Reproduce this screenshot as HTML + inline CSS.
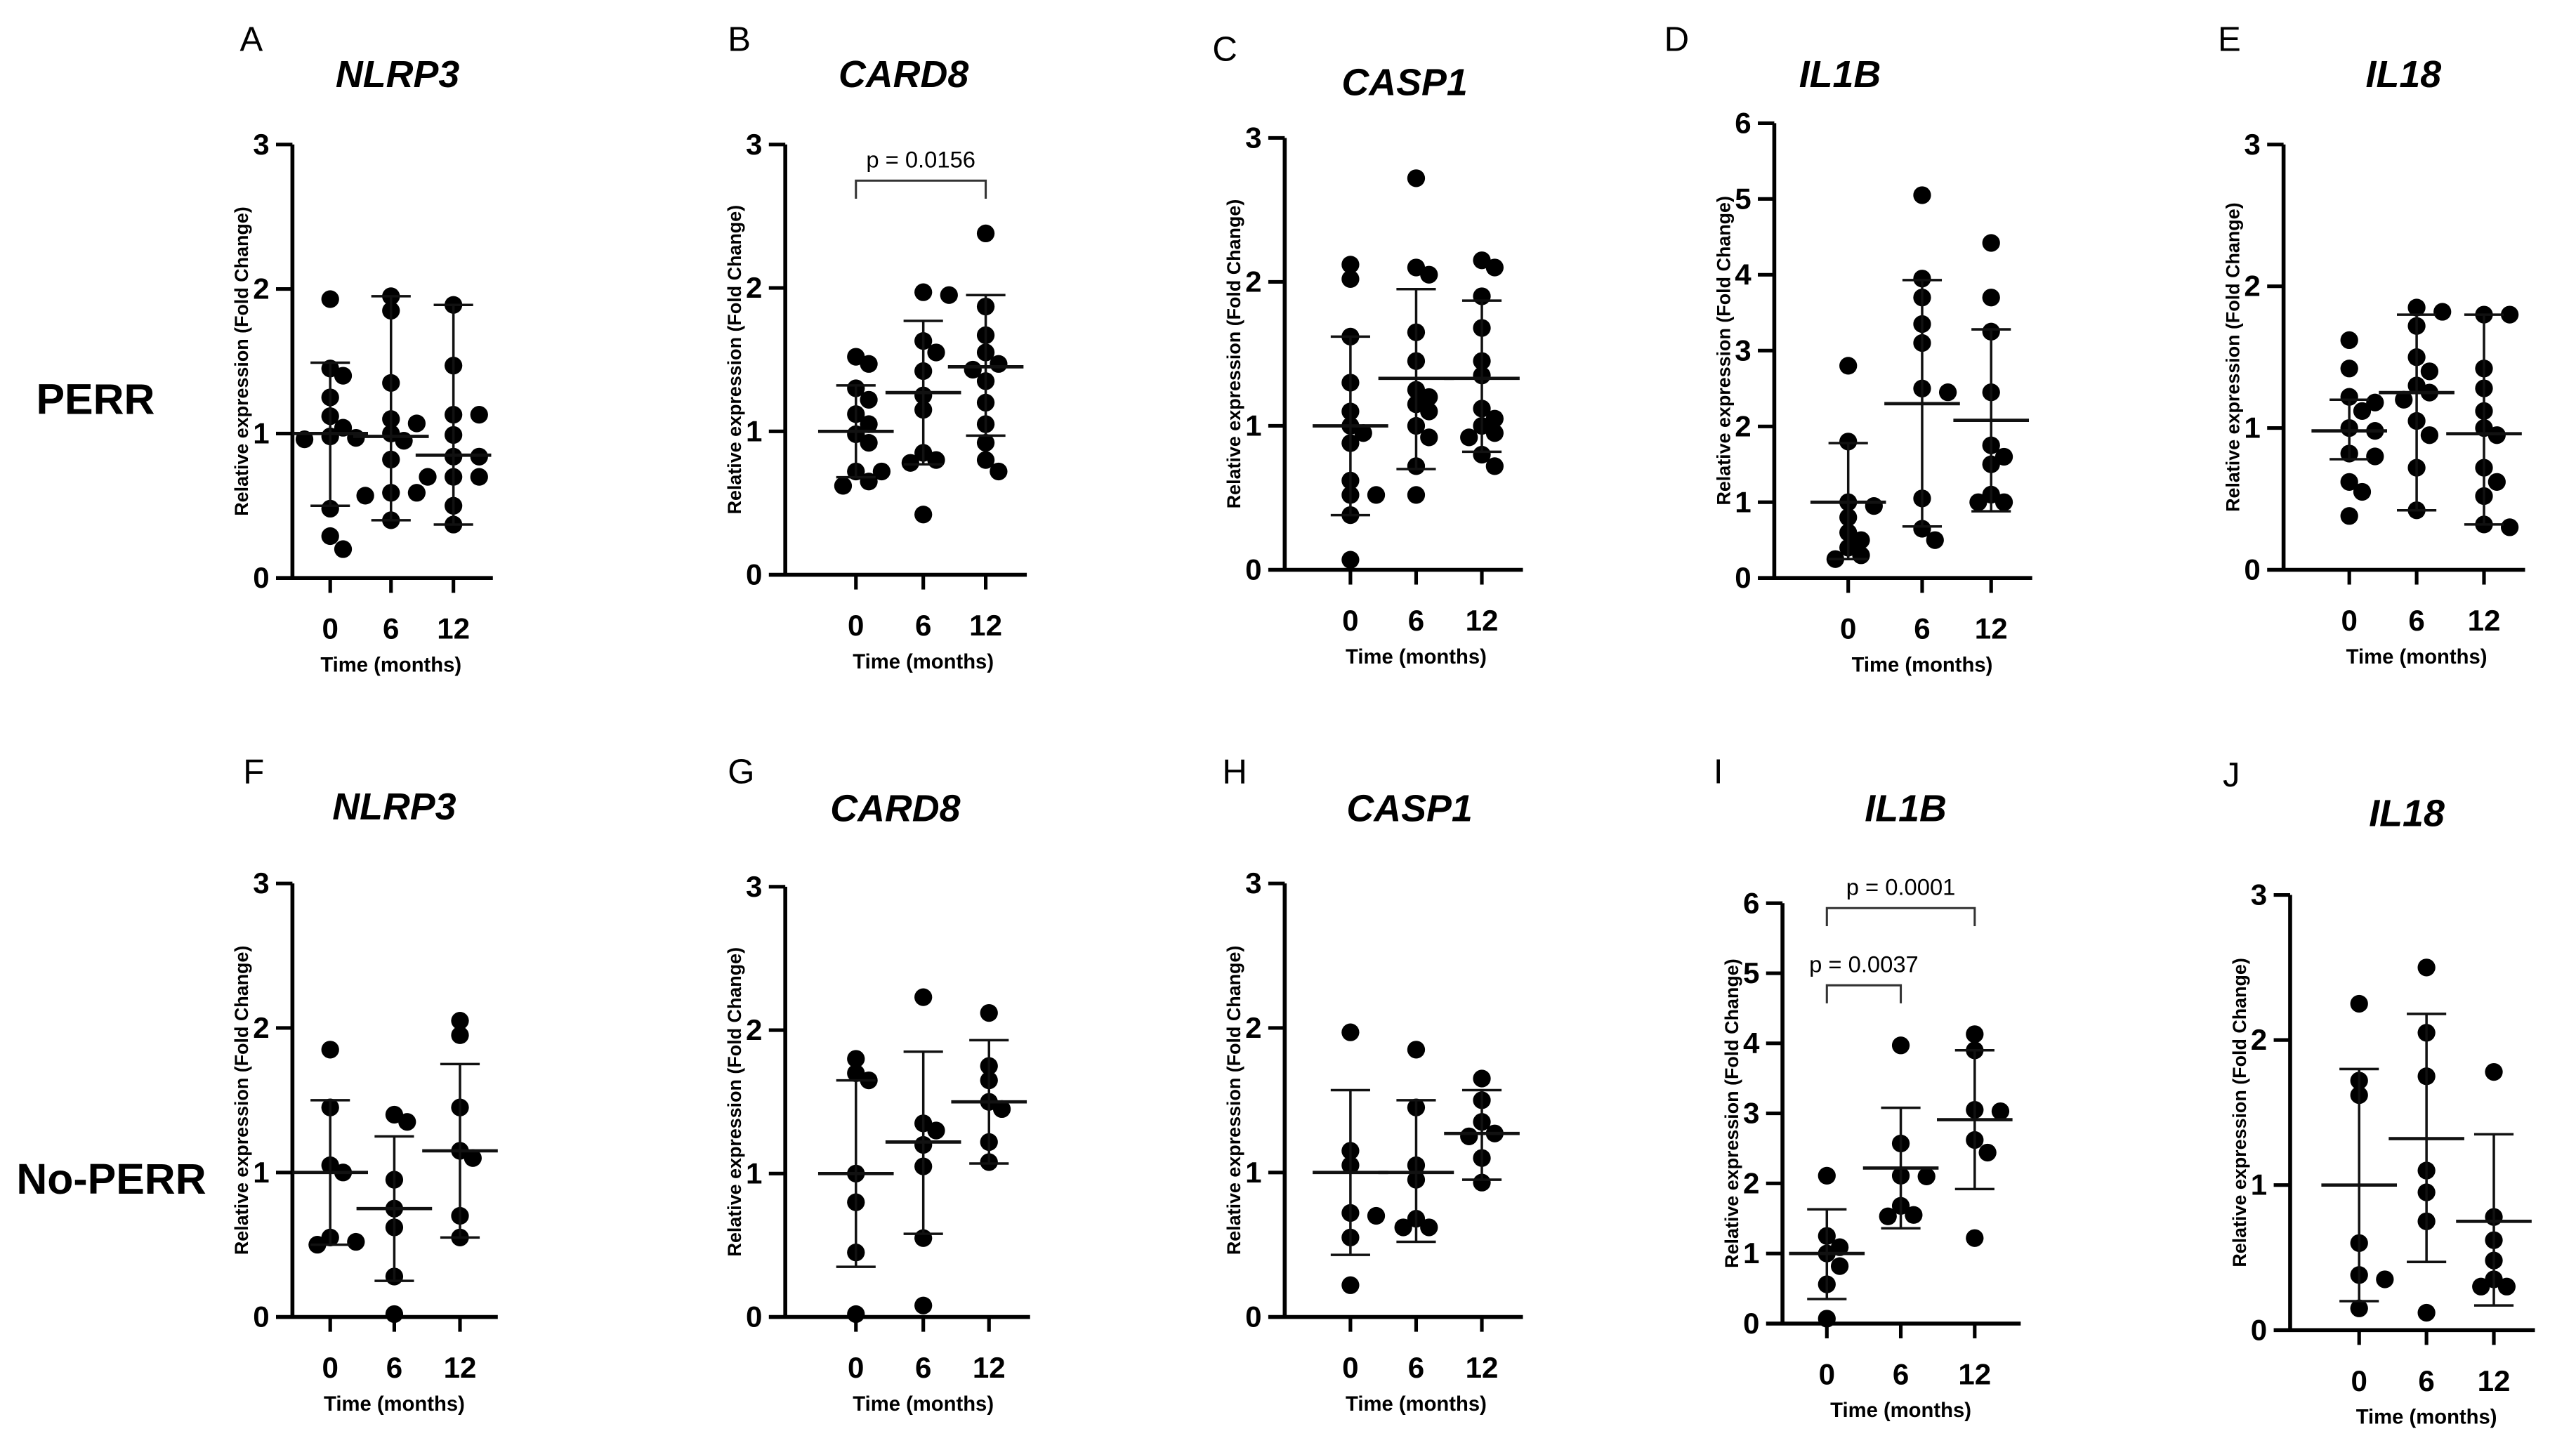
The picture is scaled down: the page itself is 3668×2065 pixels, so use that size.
<!DOCTYPE html>
<html><head><meta charset="utf-8"><style>
html,body{margin:0;padding:0;background:#fff}
svg{display:block}
text{font-family:"Liberation Sans",Arial,sans-serif;fill:#000}
</style></head><body>
<svg id="fig" xmlns="http://www.w3.org/2000/svg" width="3668" height="2065" viewBox="0 0 1568 883" preserveAspectRatio="none">
<text x="22" y="252" font-size="26" font-weight="bold">PERR</text>
<text x="10" y="727" font-size="26" font-weight="bold">No-PERR</text>
</svg>
<script>
const categories = ['0','6','12'];
const yTicks3 = [0,1,2,3];
const yTicks6 = [0,1,2,3,4,5,6];

const panelA_values = [[1.93,1.45,1.40,1.25,1.12,1.04,0.98,0.97,0.96,0.48,0.29,0.20],[1.95,1.85,1.35,1.10,1.07,1.0,0.95,0.82,0.59,0.59,0.57,0.40],[1.89,1.47,1.13,1.13,0.99,0.84,0.84,0.70,0.70,0.70,0.50,0.37]];
const panelA_mean = [1.0,0.98,0.85]; const panelA_hi = [1.49,1.95,1.89]; const panelA_lo = [0.5,0.40,0.37];
const panelB_values = [[1.52,1.47,1.30,1.22,1.12,1.05,0.98,0.92,0.72,0.72,0.65,0.62],[1.97,1.95,1.63,1.55,1.42,1.25,1.15,0.85,0.80,0.78,0.42],[2.38,1.87,1.67,1.55,1.47,1.43,1.35,1.20,1.05,0.92,0.80,0.72]];
const panelB_mean = [1.0,1.27,1.45]; const panelB_hi = [1.32,1.77,1.95]; const panelB_lo = [0.68,0.77,0.97];
const panelC_values = [[2.12,2.02,1.62,1.3,1.1,1.0,0.95,0.88,0.62,0.52,0.52,0.38,0.07],[2.72,2.1,2.05,1.65,1.45,1.25,1.2,1.15,1.1,1.0,0.92,0.72,0.52],[2.15,2.1,1.9,1.68,1.45,1.35,1.12,1.05,1.0,0.95,0.92,0.8,0.72]];
const panelC_mean = [1.0,1.33,1.33]; const panelC_hi = [1.62,1.95,1.87]; const panelC_lo = [0.38,0.7,0.82];
const panelD_values = [[2.8,1.8,1.0,0.95,0.8,0.6,0.5,0.4,0.3,0.25],[5.05,3.95,3.7,3.35,3.1,2.5,2.45,1.05,0.65,0.5],[4.42,3.7,3.25,2.45,1.75,1.6,1.5,1.1,1.0,1.0]];
const panelD_mean = [1.0,2.3,2.08]; const panelD_hi = [1.78,3.93,3.28]; const panelD_lo = [0.25,0.68,0.88];
const panelE_values = [[1.62,1.42,1.22,1.18,1.12,1.0,0.98,0.82,0.8,0.62,0.55,0.38],[1.85,1.82,1.72,1.5,1.4,1.3,1.25,1.2,1.05,0.95,0.72,0.42],[1.8,1.8,1.42,1.28,1.12,1.0,0.95,0.72,0.62,0.52,0.32,0.3]];
const panelE_mean = [0.98,1.25,0.96]; const panelE_hi = [1.2,1.8,1.8]; const panelE_lo = [0.78,0.42,0.32];
const panelF_values = [[1.85,1.45,1.05,1.0,0.55,0.52,0.5],[1.4,1.35,0.95,0.75,0.62,0.28,0.02],[2.05,1.95,1.45,1.15,1.1,0.7,0.55]];
const panelF_mean = [1.0,0.75,1.15]; const panelF_hi = [1.5,1.25,1.75]; const panelF_lo = [0.5,0.25,0.55];
const panelG_values = [[1.8,1.7,1.65,1.0,0.8,0.45,0.02],[2.23,1.35,1.3,1.2,1.05,0.55,0.08],[2.12,1.75,1.65,1.5,1.45,1.22,1.08]];
const panelG_mean = [1.0,1.22,1.5]; const panelG_hi = [1.65,1.85,1.93]; const panelG_lo = [0.35,0.58,1.07];
const panelH_values = [[1.97,1.15,1.05,0.72,0.7,0.55,0.22],[1.85,1.45,1.05,0.95,0.68,0.62,0.62],[1.65,1.5,1.35,1.27,1.25,1.1,0.93]];
const panelH_mean = [1.0,1.0,1.27]; const panelH_hi = [1.57,1.5,1.57]; const panelH_lo = [0.43,0.52,0.95];
const panelI_values = [[2.11,1.25,1.09,1.0,0.82,0.56,0.07],[3.97,2.57,2.11,2.1,1.68,1.55,1.53],[4.13,3.9,3.05,3.03,2.62,2.44,1.22]];
const panelI_mean = [1.0,2.22,2.91]; const panelI_hi = [1.63,3.08,3.9]; const panelI_lo = [0.35,1.36,1.92];
const panelJ_values = [[2.25,1.72,1.62,0.6,0.38,0.35,0.15],[2.5,2.05,1.75,1.1,0.95,0.75,0.12],[1.78,0.78,0.62,0.48,0.35,0.3,0.3]];
const panelJ_mean = [1.0,1.32,0.75]; const panelJ_hi = [1.8,2.18,1.35]; const panelJ_lo = [0.2,0.47,0.17];

const pvalB = ['p = 0.0156']; const pvalI = ['p = 0.0001','p = 0.0037'];

const NS='http://www.w3.org/2000/svg';
const svg=document.getElementById('fig');
function el(tag,attrs,parent){const e=document.createElementNS(NS,tag);for(const k in attrs)e.setAttribute(k,attrs[k]);(parent||svg).appendChild(e);return e;}

const panels=[
 {id:'a',letter:'A',lx:146,ly:31,title:'NLRP3',tx:242,ty:53,ax:178,yTop:88,y0:352,ticks:[201,238,276],xr:300,ymax:3,yt:yTicks3,v:panelA_values,m:panelA_mean,hi:panelA_hi,lo:panelA_lo},
 {id:'b',letter:'B',lx:443,ly:31,title:'CARD8',tx:550,ty:53,ax:478,yTop:88,y0:350,ticks:[521,562,600],xr:625,ymax:3,yt:yTicks3,v:panelB_values,m:panelB_mean,hi:panelB_hi,lo:panelB_lo,br:[{a:0,b:2,y:110,t:pvalB[0]}]},
 {id:'c',letter:'C',lx:738,ly:37,title:'CASP1',tx:855,ty:58,ax:782,yTop:84,y0:347,ticks:[822,862,902],xr:927,ymax:3,yt:yTicks3,v:panelC_values,m:panelC_mean,hi:panelC_hi,lo:panelC_lo},
 {id:'d',letter:'D',lx:1013,ly:31,title:'IL1B',tx:1120,ty:53,ax:1080,yTop:75,y0:352,ticks:[1125,1170,1212],xr:1237,ymax:6,yt:yTicks6,v:panelD_values,m:panelD_mean,hi:panelD_hi,lo:panelD_lo},
 {id:'e',letter:'E',lx:1350,ly:31,title:'IL18',tx:1463,ty:53,ax:1390,yTop:88,y0:347,ticks:[1430,1471,1512],xr:1537,ymax:3,yt:yTicks3,v:panelE_values,m:panelE_mean,hi:panelE_hi,lo:panelE_lo},
 {id:'f',letter:'F',lx:148,ly:477,title:'NLRP3',tx:240,ty:499,ax:178,yTop:538,y0:802,ticks:[201,240,280],xr:303,ymax:3,yt:yTicks3,v:panelF_values,m:panelF_mean,hi:panelF_hi,lo:panelF_lo},
 {id:'g',letter:'G',lx:443,ly:477,title:'CARD8',tx:545,ty:500,ax:478,yTop:540,y0:802,ticks:[521,562,602],xr:627,ymax:3,yt:yTicks3,v:panelG_values,m:panelG_mean,hi:panelG_hi,lo:panelG_lo},
 {id:'h',letter:'H',lx:744,ly:477,title:'CASP1',tx:858,ty:500,ax:782,yTop:538,y0:802,ticks:[822,862,902],xr:927,ymax:3,yt:yTicks3,v:panelH_values,m:panelH_mean,hi:panelH_hi,lo:panelH_lo},
 {id:'i',letter:'I',lx:1043,ly:477,title:'IL1B',tx:1160,ty:500,ax:1085,yTop:550,y0:806,ticks:[1112,1157,1202],xr:1230,ymax:6,yt:yTicks6,v:panelI_values,m:panelI_mean,hi:panelI_hi,lo:panelI_lo,br:[{a:0,b:2,y:553,t:pvalI[0]},{a:0,b:1,y:600,t:pvalI[1]}]},
 {id:'j',letter:'J',lx:1353,ly:479,title:'IL18',tx:1465,ty:503,ax:1394,yTop:545,y0:810,ticks:[1436,1477,1518],xr:1543,ymax:3,yt:yTicks3,v:panelJ_values,m:panelJ_mean,hi:panelJ_hi,lo:panelJ_lo}
];

const R=5.4;
panels.forEach(p=>{
  const g=el('g',{});
  
  
  const yS=v=>p.y0-(v/p.ymax)*(p.y0-p.yTop);
  const xS=i=>p.ticks[i];
  const L=el('text',{x:p.lx,y:p.ly,'font-size':21},g);L.textContent=p.letter;
  
  
  const T=el('text',{x:p.tx,y:p.ty,'font-size':23,'font-weight':'bold','font-style':'italic','text-anchor':'middle'},g);T.textContent=p.title;
  
  
  const ya=el('line',{x1:p.ax,y1:p.yTop,x2:p.ax,y2:p.y0,stroke:'#000','stroke-width':2.4},g);
  
  
  const xa=el('line',{x1:p.ax-10,y1:p.y0,x2:p.xr,y2:p.y0,stroke:'#000','stroke-width':2.4},g);
  
  
  p.yt.forEach(t=>{
    const y=yS(t);
    if(t>0) el('line',{x1:p.ax-10,y1:y,x2:p.ax,y2:y,stroke:'#000','stroke-width':2.2},g);
    const tl=el('text',{x:p.ax-14,y:y+6,'font-size':18,'font-weight':'bold','text-anchor':'end'},g);tl.textContent=t;
    
    
  });
  categories.forEach((c,i)=>{
    el('line',{x1:xS(i),y1:p.y0,x2:xS(i),y2:p.y0+9,stroke:'#000','stroke-width':2.2},g);
    const tl=el('text',{x:xS(i),y:p.y0+37,'font-size':18,'font-weight':'bold','text-anchor':'middle'},g);tl.textContent=c;
    
    
  });
  const xl=el('text',{x:p.ticks[1],y:p.y0+57,'font-size':12.5,'font-weight':'bold','text-anchor':'middle'},g);xl.textContent='Time (months)';
  
  
  const yc=(p.yTop+p.y0)/2;
  const yl=el('text',{x:0,y:0,'font-size':11.5,'font-weight':'bold','text-anchor':'middle',transform:`translate(${p.ax-27},${yc}) rotate(-90)`},g);yl.textContent='Relative expression  (Fold Change)';
  
  
  categories.forEach((c,i)=>{
    const placed=[];
    const vals=p.v[i].slice().sort((a,b)=>b-a);
    vals.forEach(v=>{
      const y=yS(v);let off=0;
      const cands=[0];for(let k=1;k<5;k++){cands.push(k*R*1.45,-k*R*1.45);}
      for(const o of cands){if(placed.every(q=>Math.hypot(q[0]-o,q[1]-y)>=R*1.6)){off=o;break;}}
      placed.push([off,y]);
      const d=el('circle',{cx:xS(i)+off,cy:y,r:R,fill:'#000'},g);
      
      
    });
    const x=xS(i);
    const e1=el('line',{x1:x,y1:yS(p.hi[i]),x2:x,y2:yS(p.lo[i]),stroke:'#111','stroke-width':1.5},g);
    
    
    el('line',{x1:x-12,y1:yS(p.hi[i]),x2:x+12,y2:yS(p.hi[i]),stroke:'#111','stroke-width':1.5},g);
    el('line',{x1:x-12,y1:yS(p.lo[i]),x2:x+12,y2:yS(p.lo[i]),stroke:'#111','stroke-width':1.5},g);
    const mb=el('line',{x1:x-23,y1:yS(p.m[i]),x2:x+23,y2:yS(p.m[i]),stroke:'#111','stroke-width':2},g);
    
    
  });
  (p.br||[]).forEach(b=>{
    const x1=xS(b.a),x2=xS(b.b);
    const pl=el('polyline',{points:`${x1},${b.y+11} ${x1},${b.y} ${x2},${b.y} ${x2},${b.y+11}`,fill:'none',stroke:'#333','stroke-width':1.3},g);
    
    
    const t=el('text',{x:(x1+x2)/2,y:b.y-8,'font-size':14,'text-anchor':'middle',fill:'#222'},g);t.textContent=b.t;
    
    
  });
});
</script>
</body></html>
